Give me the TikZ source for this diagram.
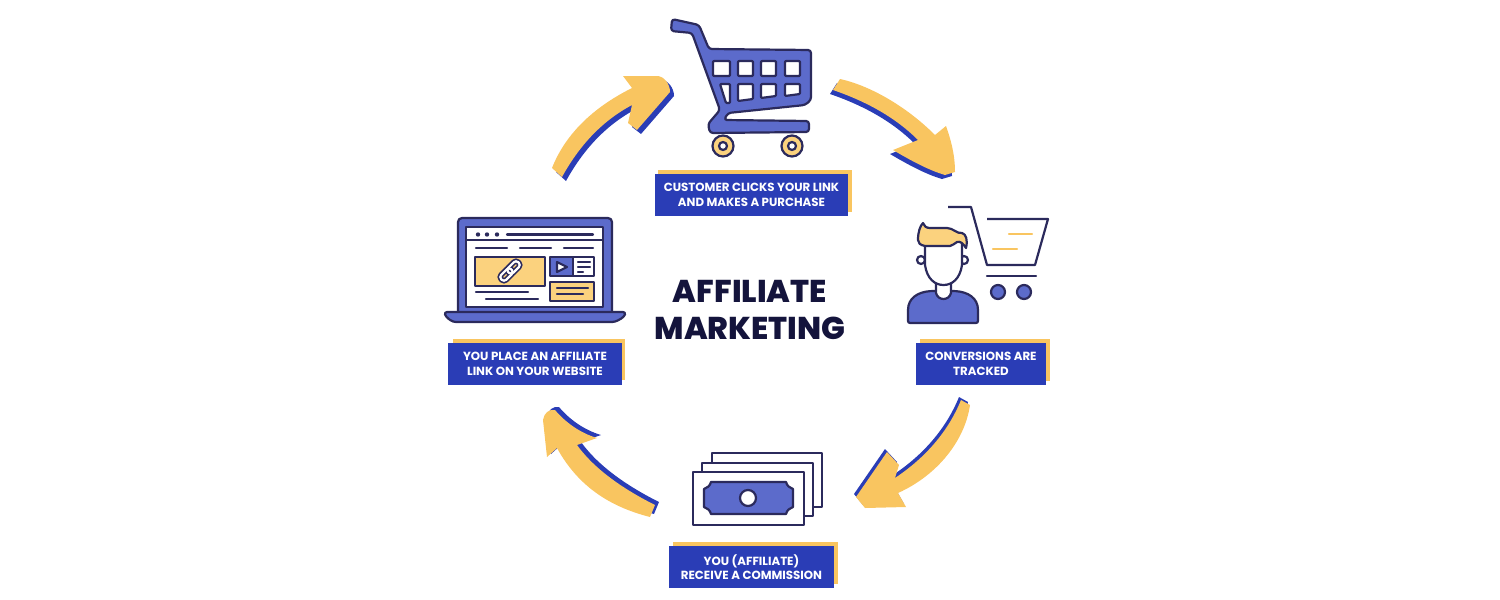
\documentclass[tikz,border=0pt]{standalone}
\usepackage{fontspec}
\setmainfont{Poppins}
\newfontfamily\titlefont{Poppins ExtraBold}
\definecolor{ink}{HTML}{2B2A5C}
\definecolor{iris}{HTML}{5C6BCB}
\definecolor{gold}{HTML}{F9C560}
\definecolor{paleGold}{HTML}{FBD27E}
\definecolor{royal}{HTML}{2A3DB6}
\definecolor{night}{HTML}{14143C}
\newcommand{\arrowcart}{(833, 90) -- (840, 79) .. controls (868, 85) and (905, 105) .. (935, 135) -- (946, 126) .. controls (951, 140) and (955, 155) .. (955, 172) -- (945, 175) .. controls (928, 170) and (910, 160) .. (893, 150) -- (918, 140) .. controls (893, 115) and (862, 100) .. (833, 90) -- cycle}
\newcommand{\arrowtrack}{(961, 400) -- (970, 405) .. controls (965, 440) and (938, 475) .. (898, 493) -- (906, 507) -- (865, 508) -- (856, 497) -- (887, 452) -- (899, 465) -- (895, 478) .. controls (925, 458) and (948, 432) .. (961, 400) -- cycle}
\newcommand{\arrowpay}{(655, 505) -- (650, 517) .. controls (615, 508) and (580, 490) .. (557, 448) -- (547, 457) -- (543, 420) .. controls (544, 413) and (549, 409) .. (555, 410) .. controls (565, 422) and (580, 433) .. (597, 438) -- (577, 445) .. controls (595, 470) and (625, 490) .. (655, 505) -- cycle}
\newcommand{\arrowsite}{(552, 168) .. controls (565, 135) and (592, 108) .. (632, 88) -- (623, 76) -- (657, 76) .. controls (664, 76) and (670, 84) .. (670, 92) -- (637, 130) -- (628, 123) -- (632, 105) .. controls (600, 122) and (578, 148) .. (562, 177) -- cycle}
\tikzset{
  iconline/.style={draw=ink, line width=2.2, line join=round},
  barline/.style={ink, line width=2.2, line cap=round},
  goldline/.style={gold, line width=2.2, line cap=round},
  labelbox/.style={fill=royal, text=white, inner sep=0pt, align=center, font=\bfseries\fontsize{11.8}{14.5}\selectfont},
}
\begin{document}
\begin{tikzpicture}[x=1pt, y=-1pt]
        \useasboundingbox (0, 0) rectangle (1500, 600);

        % arrows
        \fill[royal, shift={(-3, 4)}] \arrowcart;
        \fill[gold] \arrowcart;
        \fill[royal, shift={(-2, -3)}] \arrowtrack;
        \fill[gold] \arrowtrack;
        \fill[royal, shift={(4, -3)}] \arrowpay;
        \fill[gold] \arrowpay;
        \fill[royal, shift={(4, 4)}] \arrowsite;
        \fill[gold] \arrowsite;

        % cart
        \draw[iconline, fill=iris, rounded corners=3] (672, 19) -- (699, 25) -- (709, 49) -- (811, 50) -- (811, 100) -- (805, 105) -- (728, 113) -- (724, 120) -- (809, 121) -- (809, 132) -- (710, 133) -- (708, 124) -- (720, 110) -- (692, 33) -- (671, 31) -- cycle;
        \foreach \xa/\xb in {713/730, 738/753, 761/776, 785/800} {
          \draw[iconline, fill=white, rounded corners=1] (\xa, 61) rectangle (\xb, 76);
        }
        \draw[iconline, fill=white, rounded corners=1] (720, 84) -- (730, 84) -- (730, 103) -- (726, 103) -- cycle;
        \draw[iconline, fill=white, rounded corners=1] (738, 84) -- (753, 84) -- (753, 99) -- (738, 101) -- cycle;
        \draw[iconline, fill=white, rounded corners=1] (761, 84) -- (776, 84) -- (776, 96) -- (761, 98) -- cycle;
        \draw[iconline, fill=white, rounded corners=1] (785, 84) -- (800, 84) -- (800, 94) -- (785, 96) -- cycle;
        \foreach \xw in {723, 792} {
          \draw[iconline, fill=paleGold] (\xw, 146) circle (10.5);
          \draw[iconline, fill=white] (\xw, 146) circle (4);
        }

        % laptop
        \draw[iconline, fill=iris, rounded corners=4] (458, 312) -- (458, 218) -- (612, 218) -- (612, 312);
        \draw[iconline, fill=white] (466, 227) rectangle (603, 307);
        \draw[iconline] (466, 240) -- (603, 240);
        \foreach \xd in {478, 487, 497} {
          \fill[ink] (\xd, 234.5) circle (2.2);
        }
        \draw[barline] (507, 234.5) -- (593, 234.5);
        \draw[barline] (476, 248) -- (507, 248);
        \draw[barline] (520, 248) -- (551, 248);
        \draw[barline] (564, 248) -- (593, 248);
        \draw[iconline, fill=paleGold] (475, 257) rectangle (545, 286);
        \begin{scope}[shift={(510, 271)}, rotate=45]
          \draw[ink, line width=5.5, rounded corners=3] (-12, -3.5) rectangle (2, 3.5);
          \draw[ink, line width=5.5, rounded corners=3] (-2, -3.5) rectangle (12, 3.5);
          \draw[white, line width=2.2, rounded corners=3] (-12, -3.5) rectangle (2, 3.5);
          \draw[white, line width=2.2, rounded corners=3] (-2, -3.5) rectangle (12, 3.5);
        \end{scope}
        \draw[iconline, fill=iris] (550, 257) rectangle (573, 276);
        \draw[iconline, fill=white] (573, 257) rectangle (594, 276);
        \draw[iconline, fill=white] (557, 262) -- (567, 267) -- (557, 272) -- cycle;
        \draw[barline] (578, 262) -- (590, 262);
        \draw[barline] (578, 267) -- (590, 267);
        \draw[barline] (578, 272) -- (583, 272);
        \draw[iconline, fill=paleGold] (550, 282) rectangle (594, 301);
        \draw[barline] (557, 288) -- (588, 288);
        \draw[barline] (557, 294) -- (583, 294);
        \draw[barline] (476, 292) -- (528, 292);
        \draw[barline] (486, 299) -- (538, 299);
        \draw[iconline, fill=iris, rounded corners=3] (444, 312) -- (626, 312) -- (624, 317) -- (615, 322) -- (453, 322) -- (446, 317) -- cycle;

        % shopper
        \draw[iconline] (948, 207) -- (971, 207) -- (987, 265) -- (1035, 265) -- (1048, 219) -- (987, 219);
        \draw[barline] (987, 276) -- (1036, 276);
        \foreach \xw in {998, 1024} {
          \draw[iconline, fill=iris] (\xw, 292) circle (7);
        }
        \draw[goldline] (1009, 234) -- (1032, 234);
        \draw[goldline] (993, 249) -- (1017, 249);
        \draw[iconline, fill=iris, rounded corners=2] (908, 323) -- (978, 323) -- (978, 312) .. controls (978, 298) and (968, 292) .. (954, 291) -- (932, 291) .. controls (918, 292) and (908, 298) .. (908, 312) -- cycle;
        \draw[iconline, fill=white] (936, 282) -- (936, 293) .. controls (938, 301) and (949, 301) .. (951, 293) -- (951, 282) -- cycle;
        \draw[iconline, fill=white] (921, 260) circle (4);
        \draw[iconline, fill=white] (964, 260) circle (4);
        \draw[iconline, fill=white] (925, 240) -- (925, 265) .. controls (927, 279) and (935, 285) .. (943.5, 285) .. controls (952, 285) and (960, 279) .. (962, 265) -- (962, 240) -- cycle;
        \draw[iconline, fill=paleGold] (925, 246) .. controls (920, 245) and (918, 243) .. (918, 240) .. controls (918, 232) and (920, 226) .. (923, 223) .. controls (924, 226) and (926, 228) .. (930, 228) -- (947, 228) .. controls (953, 228) and (957, 234) .. (962, 233) .. controls (966, 234) and (968, 240) .. (966, 248) .. controls (963, 243) and (960, 241) .. (957, 242) .. controls (954, 243) and (953, 246) .. (950, 246) -- cycle;

        % money
        \draw[iconline, fill=white] (712, 453) rectangle (822, 507);
        \draw[iconline, fill=white] (702, 463) rectangle (813, 516);
        \draw[iconline, fill=white] (693, 472) rectangle (804, 525);
        \draw[iconline, fill=iris] (711, 482) -- (786, 482) .. controls (787, 486) and (790, 488) .. (793, 489) -- (793, 507) .. controls (790, 508) and (787, 510) .. (786, 514) -- (711, 514) .. controls (710, 510) and (707, 508) .. (704, 507) -- (704, 489) .. controls (707, 488) and (710, 486) .. (711, 482) -- cycle;
        \draw[iconline, fill=white] (748, 498) circle (8);

        % labels
        \fill[gold] (658, 170) rectangle (852, 212);
        \node (labelcart) [labelbox, minimum width=193, minimum height=42] at (751.5, 195) {CUSTOMER CLICKS YOUR LINK\\AND MAKES A PURCHASE};
        \fill[gold] (453, 339) rectangle (625, 380);
        \node (labelsite) [labelbox, minimum width=174, minimum height=42] at (535, 364) {YOU PLACE AN AFFILIATE\\LINK ON YOUR WEBSITE};
        \fill[gold] (920, 339) rectangle (1050, 381);
        \node (labeltrack) [labelbox, minimum width=130, minimum height=42] at (981, 364) {CONVERSIONS ARE\\TRACKED};
        \fill[gold] (673, 542) rectangle (838, 584);
        \node (labelpay) [labelbox, minimum width=165, minimum height=42] at (751.5, 567) {YOU (AFFILIATE)\\RECEIVE A COMMISSION};

        \node (title) [text=night, align=center, font=\titlefont\fontsize{31.5}{37}\selectfont] at (750, 310) {AFFILIATE\\MARKETING};
\end{tikzpicture}
\end{document}
